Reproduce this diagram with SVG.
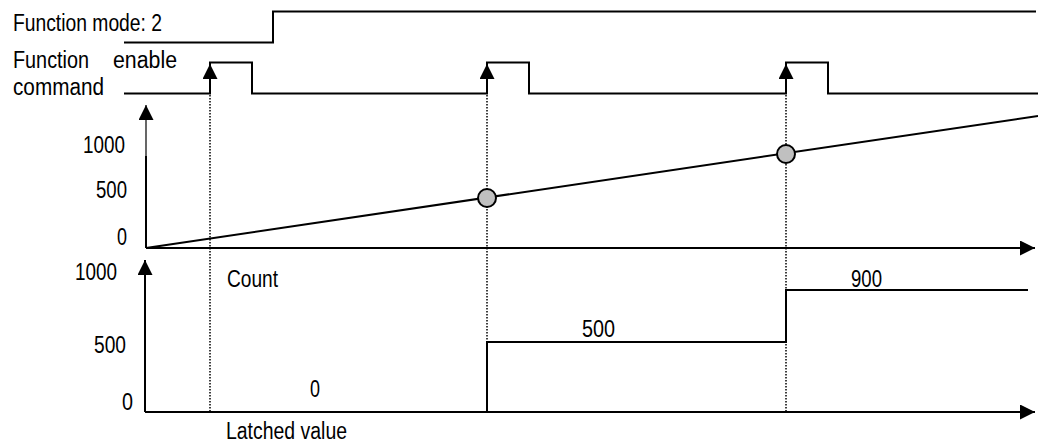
<svg xmlns="http://www.w3.org/2000/svg" width="1038" height="445" viewBox="0 0 1038 445">
<style>
.sig{fill:none;stroke:#000;stroke-width:2}
.thin{fill:none;stroke:#000;stroke-width:1.2}
.dot{fill:none;stroke:#000;stroke-width:1.5;stroke-dasharray:1.5 1.5}
.pt{fill:#c0c0c0;stroke:#000;stroke-width:2}
text{font-family:"Liberation Sans",Arial,sans-serif;font-size:23px;fill:#000}
</style>
<defs>
<marker id="ah" viewBox="0 0 15 15" refX="15" refY="7.5" markerWidth="15" markerHeight="15" markerUnits="userSpaceOnUse" orient="auto">
<path d="M0,0 L15,7.5 L0,15 z" fill="#000"/>
</marker>
</defs>
<rect width="1038" height="445" fill="#fff"/>
<g id="connectors">
<path class="dot" d="M210,80 V412 M487,80 V412 M786,80 V412"/>
<path class="sig" d="M210,81 V64" marker-end="url(#ah)"/>
<path class="sig" d="M487,81 V64" marker-end="url(#ah)"/>
<path class="sig" d="M786,81 V64" marker-end="url(#ah)"/>
<path class="sig" d="M146,248 V156"/>
<path class="thin" d="M146,157 V105" marker-end="url(#ah)"/>
<path class="sig" d="M146,248 H1035" marker-end="url(#ah)"/>
<path class="sig" d="M145,412 V260" marker-end="url(#ah)"/>
<path class="sig" d="M145,412 H1035" marker-end="url(#ah)"/>
</g>
<g id="mode-signal">
<text x="13" y="31" textLength="149" lengthAdjust="spacingAndGlyphs">Function mode: 2</text>
<path class="sig" d="M124,42.5 H273 V11.5 H1036"/>
</g>
<g id="enable-signal">
<text x="13" y="68" textLength="76" lengthAdjust="spacingAndGlyphs">Function</text>
<text x="113" y="68" textLength="64" lengthAdjust="spacingAndGlyphs">enable</text>
<text x="13" y="95" textLength="91" lengthAdjust="spacingAndGlyphs">command</text>
<path class="sig" d="M124,93.5 H210 V62.5 H252 V93.5 H487 V62.5 H529 V93.5 H786 V62.5 H828 V93.5 H1038"/>
</g>
<g id="count-graph">
<text x="83" y="153" textLength="42" lengthAdjust="spacingAndGlyphs">1000</text>
<text x="96" y="198" textLength="31" lengthAdjust="spacingAndGlyphs">500</text>
<text x="117" y="245" textLength="10" lengthAdjust="spacingAndGlyphs">0</text>
<path class="sig" d="M146,248 L1038,116"/>
<circle class="pt" cx="487" cy="198" r="9"/>
<circle class="pt" cx="786" cy="154" r="9"/>
</g>
<g id="latched-graph">
<text x="75" y="280" textLength="42" lengthAdjust="spacingAndGlyphs">1000</text>
<text x="227" y="287" textLength="51" lengthAdjust="spacingAndGlyphs">Count</text>
<text x="94" y="353" textLength="32" lengthAdjust="spacingAndGlyphs">500</text>
<text x="122" y="410" textLength="11" lengthAdjust="spacingAndGlyphs">0</text>
<text x="310" y="397" textLength="10" lengthAdjust="spacingAndGlyphs">0</text>
<text x="582" y="337" textLength="33" lengthAdjust="spacingAndGlyphs">500</text>
<text x="851" y="287" textLength="31" lengthAdjust="spacingAndGlyphs">900</text>
<text x="226" y="439" textLength="121" lengthAdjust="spacingAndGlyphs">Latched value</text>
<path class="sig" d="M487,412 V342 H786 V290 H1028"/>
</g>
</svg>
